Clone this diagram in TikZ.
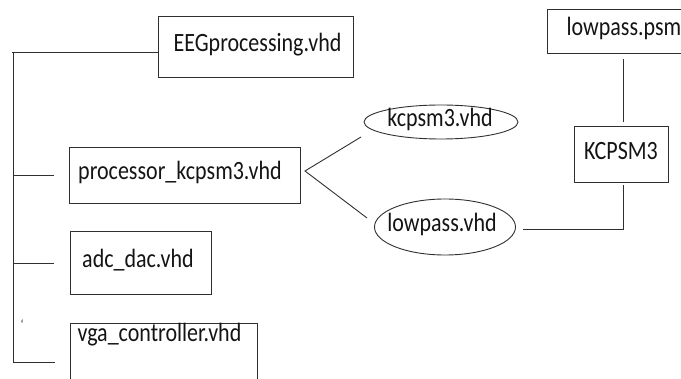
\documentclass[tikz,border=0pt]{standalone}
\usepackage{fontspec}
\usepackage{graphicx}
\setmainfont{Carlito}
\usetikzlibrary{shapes.geometric}
\definecolor{ink}{HTML}{141414}
\definecolor{wire}{HTML}{303030}
\newcommand{\tallx}[1]{\scalebox{1}[1.2]{#1}}
\begin{document}
\begin{tikzpicture}[x=1pt,y=-1pt,
  every node/.style={text=ink,font=\fontsize{22}{26}\selectfont},
  box/.style={draw=wire,line width=0.9pt,rectangle,inner sep=0pt},
  oval/.style={draw=wire,line width=0.9pt,ellipse,inner sep=0pt},
  wireline/.style={draw=wire,line width=0.9pt}]
\useasboundingbox (0,0) rectangle (681,379);
% boxes
\node[box,minimum width=195pt,minimum height=61pt] (eeg) at (255.5,46.5) {};
\node at (257.5,45) (eegt) {\tallx{EEGprocessing.vhd}};
\node[box,minimum width=231pt,minimum height=56pt] (proc) at (184.5,175) {};
\node at (180,172) (proct) {\tallx{processor\_kcpsm3.vhd}};
\node[box,minimum width=141pt,minimum height=63pt] (adc) at (140.5,262.5) {};
\node at (138,260) (adct) {\tallx{adc\_dac.vhd}};
\node[box,minimum width=187pt,minimum height=80pt,anchor=north west] (vgabox) at (70,323) {};
\node at (159.5,335) (vga) {\tallx{vga\_controller.vhd}};
\node[box,minimum width=150pt,minimum height=44pt,anchor=north west] (psmbox) at (547,9) {};
\node[anchor=west] at (563,28) (psm) {\tallx{lowpass.psm}};
\node[box,minimum width=94pt,minimum height=56pt] (kc) at (621,154) {};
\node at (621,151) (kct) {\tallx{KCPSM3}};
\node[oval,minimum width=154pt,minimum height=34pt] (kcv) at (441,122) {};
\node at (440,119) (kcvt) {\tallx{kcpsm3.vhd}};
\node[oval,minimum width=141pt,minimum height=56pt] (lpv) at (445,227) {};
\node at (442,224) (lpvt) {\tallx{lowpass.vhd}};
\node[font=\fontsize{12}{12}\selectfont] at (22,324) (tick) {`};
% tree
\coordinate (top) at (12,52);
\coordinate (bot) at (13,362);
\coordinate (s1) at (54,175);
\coordinate (s2) at (54,263);
\coordinate (s3) at (55,362);
\draw[wireline] (eeg.west |- top) -- (top);
\draw[wireline] (13,52) -- (bot) -- (s3);
\draw[wireline] (13,175) -- (s1);
\draw[wireline] (13,263) -- (s2);
% fork from processor
\coordinate (fork) at (305,171);
\coordinate (kcend) at (361,137);
\coordinate (lpend) at (367,218);
\draw[wireline] (kcend) -- (fork) -- (lpend);
% lowpass.vhd to KCPSM3
\coordinate (lpstart) at (523,229);
\coordinate (corner) at (623,229);
\coordinate (kcbot) at (623,185);
\draw[wireline] (lpstart) -- (corner) -- (kcbot);
% psm to KCPSM3
\coordinate (psmb) at (623,59);
\coordinate (kctop) at (623,122);
\draw[wireline] (psmb) -- (kctop);
\end{tikzpicture}
\end{document}
